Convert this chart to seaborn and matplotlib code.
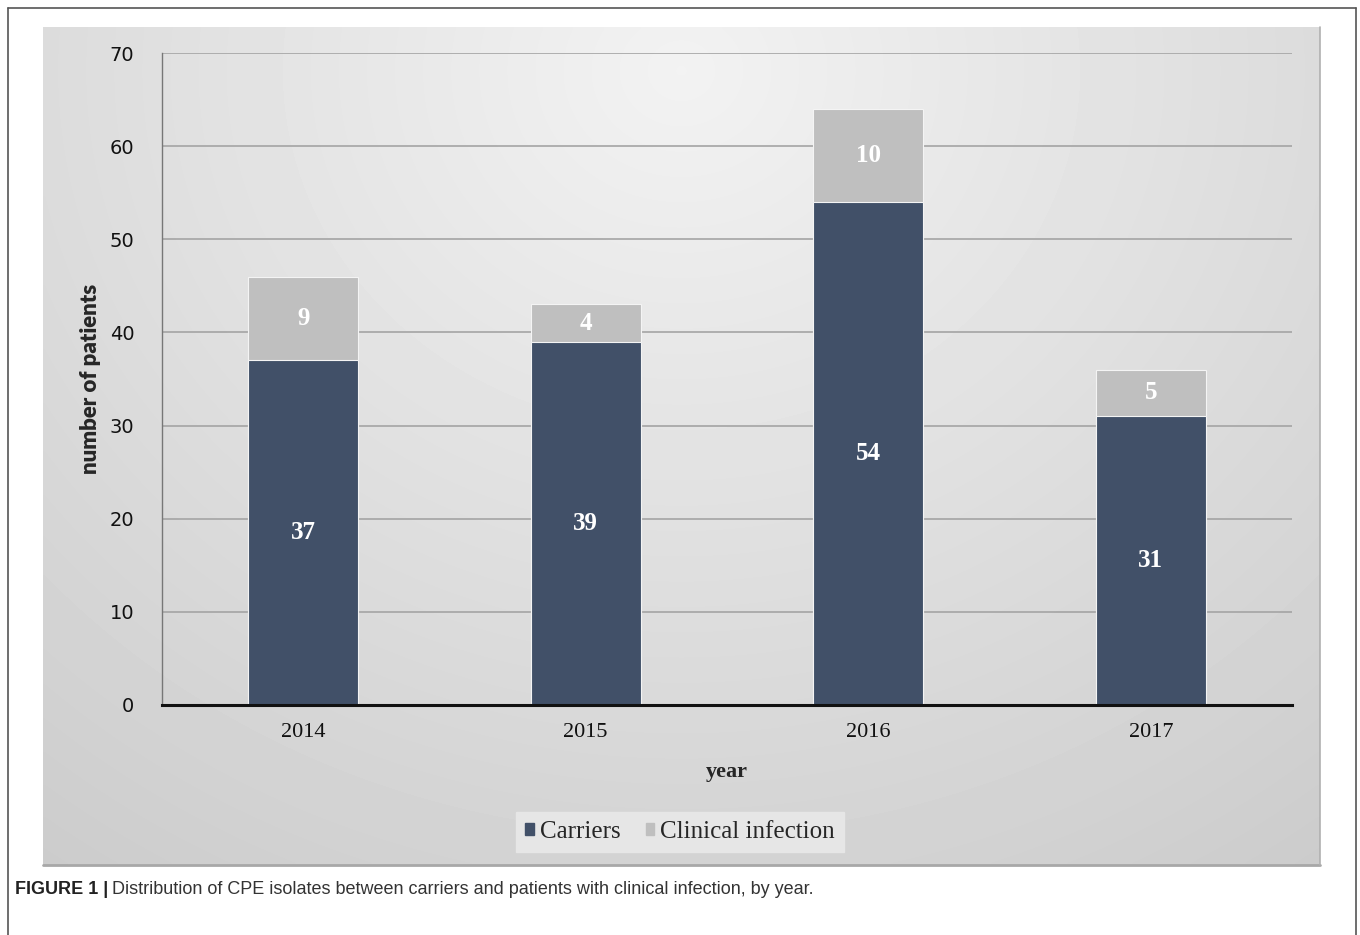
import numpy as np
import pandas as pd
import matplotlib
matplotlib.use("Agg")
import matplotlib.pyplot as plt
from matplotlib.lines import Line2D
import seaborn as sns

years = ["2014", "2015", "2016", "2017"]
carriers = [37, 39, 54, 31]
clinical = [9, 4, 10, 5]
yticks = [0, 10, 20, 30, 40, 50, 60, 70]

sns.set_style("white")
plt.rcParams["font.family"] = ["DejaVu Sans"]

W, H = 1360, 935
fig = plt.figure(figsize=(W / 100, H / 100), dpi=100)
fig.patch.set_facecolor("white")

def fx(x):
    return x / W

def fy(y):
    return 1 - y / H

# gradient panel
pl, pr, pt, pb = 43, 1320, 27, 865
bg = fig.add_axes([fx(pl), fy(pb), fx(pr - pl), (pb - pt) / H])
ny, nx = 200, 300
yy, xx = np.mgrid[0:1:ny * 1j, 0:1:nx * 1j]
d = np.sqrt(((xx - 0.5) / 0.8) ** 2 + ((yy - 0.05) / 1.1) ** 2)
vals = 0.95 - 0.17 * np.clip(d, 0, 1.2) / 1.2
bg.imshow(vals, cmap="gray", vmin=0, vmax=1, aspect="auto", extent=[0, 1, 1, 0], interpolation="bilinear")
bg.set_axis_off()
# panel shadow edges
fig.add_artist(Line2D([fx(pl), fx(pr)], [fy(pb), fy(pb)], color="#a8a8a8", lw=2))
fig.add_artist(Line2D([fx(pr), fx(pr)], [fy(pb), fy(pt)], color="#b0b0b0", lw=1.2))

# outer frame
fig.add_artist(Line2D([fx(8), fx(8)], [0, fy(8)], color="#555555", lw=1.2))
fig.add_artist(Line2D([fx(8), fx(1356)], [fy(8), fy(8)], color="#555555", lw=1.2))
fig.add_artist(Line2D([fx(1356), fx(1356)], [fy(8), 0], color="#555555", lw=1.2))

# main axes
al, ar, at, ab = 162, 1292, 53, 705
ax = fig.add_axes([fx(al), fy(ab), fx(ar - al), (ab - at) / H])
ax.patch.set_alpha(0)

df = pd.DataFrame({"year": years, "carriers": carriers, "clinical": clinical})
df["total"] = df["carriers"] + df["clinical"]

c_dark = "#415068"
c_light = "#bfbfbf"

sns.barplot(data=df, x="year", y="total", color=c_light, width=0.39, ax=ax,
            edgecolor="#f4f4f4", linewidth=0.8, saturation=1, zorder=3)
sns.barplot(data=df, x="year", y="carriers", color=c_dark, width=0.39, ax=ax,
            edgecolor="#f4f4f4", linewidth=0.8, saturation=1, zorder=4)

ax.set_ylim(0, 70)
ax.set_xlim(-0.5, 3.5)
ax.set_yticks(yticks)
ax.set_yticklabels([str(t) for t in yticks], fontsize=14, color="#111111")
ax.set_xticks(range(len(years)))
ax.set_xticklabels(years, fontsize=16, family="Liberation Serif", color="#111111")
ax.tick_params(axis="both", length=0)
ax.tick_params(axis="y", pad=20)
ax.tick_params(axis="x", pad=13)
ax.yaxis.grid(True, color="#a4a4a4", lw=1.2, zorder=0)
ax.set_axisbelow(True)
for s in ["top", "right"]:
    ax.spines[s].set_visible(False)
ax.spines["left"].set_color("#777777")
ax.spines["left"].set_linewidth(1)
ax.spines["bottom"].set_color("#111111")
ax.spines["bottom"].set_linewidth(2.2)
ax.spines["bottom"].set_zorder(6)

ax.set_xlabel("year", fontsize=16, family="Liberation Serif", fontweight="bold", labelpad=14)
ax.set_ylabel("number of patients", fontsize=16, family="Lato", fontweight="heavy", labelpad=6)

for i in range(len(years)):
    ax.text(i, carriers[i] / 2, str(carriers[i]), ha="center", va="center", color="white",
            fontsize=18, family="Liberation Serif", fontweight="bold", zorder=7)
    ax.text(i, carriers[i] + clinical[i] / 2, str(clinical[i]), ha="center", va="center", color="white",
            fontsize=18, family="Liberation Serif", fontweight="bold", zorder=7)

# legend
handles = [plt.Rectangle((0, 0), 1, 1, color=c_dark), plt.Rectangle((0, 0), 1, 1, color=c_light)]
leg = fig.legend(handles, ["Carriers", "Clinical infection"], loc="center",
                 bbox_to_anchor=(fx(680), fy(832)), ncol=2, frameon=True,
                 prop={"family": "Liberation Serif", "size": 18},
                 handlelength=0.35, handleheight=0.35, handletextpad=0.25, columnspacing=1.0,
                 borderpad=0.35, fancybox=False)
leg.get_frame().set_facecolor("#e6e6e6")
leg.get_frame().set_edgecolor("#e6e6e6")
leg.get_frame().set_alpha(1)

# caption
t1 = fig.text(fx(15), fy(890), "FIGURE 1 |", fontsize=13, family="Liberation Sans",
              fontweight="bold", va="center", ha="left", color="#222222")
fig.canvas.draw()
bb = t1.get_window_extent()
fig.text((bb.x1 + 4) / W, fy(890),
         "Distribution of CPE isolates between carriers and patients with clinical infection, by year.",
         fontsize=13, family="Liberation Sans", va="center", ha="left", color="#333333")

fig.savefig("out.png", dpi=100)
